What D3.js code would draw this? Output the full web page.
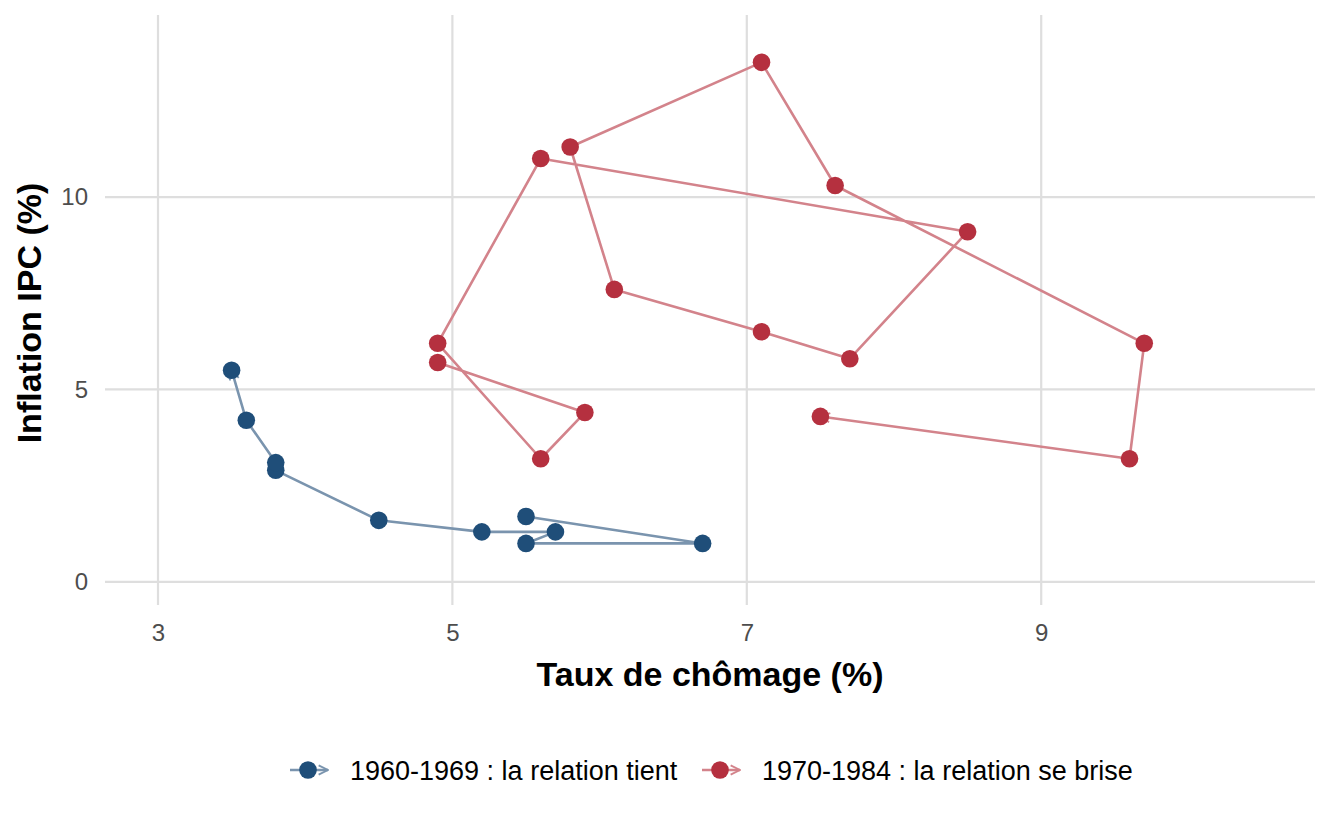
<!DOCTYPE html>
<html>
<head>
<meta charset="utf-8">
<script src="https://cdn.jsdelivr.net/npm/d3@7"></script>
<style>
  body { margin: 0; background: #fff; }
  text { font-family: "Liberation Sans", Arial, sans-serif; }
</style>
</head>
<body>
<script>
    // Courbe de Phillips, Etats-Unis
    const years60 = [1960, 1961, 1962, 1963, 1964, 1965, 1966, 1967, 1968, 1969];
    const unemp60 = [5.5, 6.7, 5.5, 5.7, 5.2, 4.5, 3.8, 3.8, 3.6, 3.5];
    const infl60 = [1.7, 1.0, 1.0, 1.3, 1.3, 1.6, 2.9, 3.1, 4.2, 5.5];

    const years70 = [1970, 1971, 1972, 1973, 1974, 1975, 1976, 1977, 1978, 1979, 1980, 1981, 1982, 1983, 1984];
    const unemp70 = [4.9, 5.9, 5.6, 4.9, 5.6, 8.5, 7.7, 7.1, 6.1, 5.8, 7.1, 7.6, 9.7, 9.6, 7.5];
    const infl70 = [5.7, 4.4, 3.2, 6.2, 11.0, 9.1, 5.8, 6.5, 7.6, 11.3, 13.5, 10.3, 6.2, 3.2, 4.3];

    const xTicks = [3, 5, 7, 9];
    const yTicks = [0, 5, 10];
    const seriesLabels = ["1960-1969 : la relation tient", "1970-1984 : la relation se brise"];

    const width = 1344;
    const height = 825;
    const margin = { top: 15, right: 29, bottom: 220, left: 105 };

    const series = [
      { label: seriesLabels[0], point: "#1f4e79", line: "#7a94ae",
        values: years60.map((y, i) => ({ year: y, u: unemp60[i], p: infl60[i] })) },
      { label: seriesLabels[1], point: "#b5303f", line: "#d3838b",
        values: years70.map((y, i) => ({ year: y, u: unemp70[i], p: infl70[i] })) }
    ];

    const svg = d3.select("body")
      .append("svg")
      .attr("width", width)
      .attr("height", height);

    const x = d3.scaleLinear()
      .domain([2.64, 10.86])
      .range([margin.left, width - margin.right]);

    const y = d3.scaleLinear()
      .domain([-0.6, 14.73])
      .range([height - margin.bottom, margin.top]);

    // Arrow markers
    const defs = svg.append("defs");
    series.forEach((s, i) => {
      defs.append("marker")
        .attr("id", "arrow" + i)
        .attr("viewBox", "0 0 10 10")
        .attr("refX", 9)
        .attr("refY", 5)
        .attr("markerWidth", 4.5)
        .attr("markerHeight", 4.5)
        .attr("markerUnits", "strokeWidth")
        .attr("orient", "auto")
        .append("path")
        .attr("d", "M1,1 L9,5 L1,9")
        .attr("fill", "none")
        .attr("stroke", s.line)
        .attr("stroke-width", 1.6);
    });

    // Grid
    svg.append("g")
      .selectAll("line")
      .data(xTicks)
      .enter()
      .append("line")
      .attr("x1", d => x(d))
      .attr("x2", d => x(d))
      .attr("y1", margin.top)
      .attr("y2", height - margin.bottom)
      .attr("stroke", "#dedede")
      .attr("stroke-width", 2.2);

    svg.append("g")
      .selectAll("line")
      .data(yTicks)
      .enter()
      .append("line")
      .attr("x1", margin.left)
      .attr("x2", width - margin.right)
      .attr("y1", d => y(d))
      .attr("y2", d => y(d))
      .attr("stroke", "#dedede")
      .attr("stroke-width", 2.2);

    // Axes (labels only)
    const xAxis = svg.append("g")
      .attr("transform", `translate(0,${height - margin.bottom})`)
      .call(d3.axisBottom(x).tickValues(xTicks).tickSize(0).tickPadding(19));
    const yAxis = svg.append("g")
      .attr("transform", `translate(${margin.left},0)`)
      .call(d3.axisLeft(y).tickValues(yTicks).tickSize(0).tickPadding(17));
    [xAxis, yAxis].forEach(a => {
      a.select(".domain").remove();
      a.selectAll("text")
        .attr("font-family", "Liberation Sans, Arial, sans-serif")
        .attr("font-size", 24)
        .attr("fill", "#4d4d4d");
    });

    // Paths
    const line = d3.line().x(d => x(d.u)).y(d => y(d.p));
    series.forEach((s, i) => {
      svg.append("path")
        .datum(s.values)
        .attr("d", line)
        .attr("fill", "none")
        .attr("stroke", s.line)
        .attr("stroke-width", 2.6)
        .attr("stroke-linejoin", "round")
        .attr("marker-end", `url(#arrow${i})`);
    });

    // Points
    series.forEach(s => {
      svg.append("g")
        .selectAll("circle")
        .data(s.values)
        .enter()
        .append("circle")
        .attr("cx", d => x(d.u))
        .attr("cy", d => y(d.p))
        .attr("r", 8.8)
        .attr("fill", s.point);
    });

    // Axis titles
    svg.append("text")
      .attr("x", (margin.left + width - margin.right) / 2)
      .attr("y", 686)
      .attr("text-anchor", "middle")
      .attr("font-size", 34)
      .attr("font-weight", "bold")
      .text("Taux de chômage (%)");

    svg.append("text")
      .attr("transform", `translate(41,${(margin.top + height - margin.bottom) / 2 + 3}) rotate(-90)`)
      .attr("text-anchor", "middle")
      .attr("font-size", 34)
      .attr("font-weight", "bold")
      .text("Inflation IPC (%)");

    // Legend
    const legendX = [290, 702];
    const legend = svg.append("g").attr("transform", "translate(0,770)");
    series.forEach((s, i) => {
      const g = legend.append("g").attr("transform", `translate(${legendX[i]},0)`);
      g.append("line")
        .attr("x1", 0).attr("x2", 38)
        .attr("y1", 0).attr("y2", 0)
        .attr("stroke", s.line)
        .attr("stroke-width", 2.6)
        .attr("marker-end", `url(#arrow${i})`);
      g.append("circle")
        .attr("cx", 18).attr("cy", 0).attr("r", 8.8)
        .attr("fill", s.point);
      g.append("text")
        .attr("x", 60)
        .attr("y", 0)
        .attr("dy", "0.36em")
        .attr("font-size", 27)
        .attr("fill", "#000")
        .text(s.label);
    });
</script>
</body>
</html>
